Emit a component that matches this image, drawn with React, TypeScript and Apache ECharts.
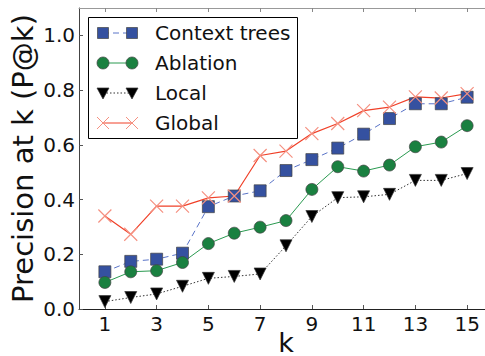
import React, { useEffect, useRef } from "react";
import * as echarts from "echarts";

const kValues = [1, 2, 3, 4, 5, 6, 7, 8, 9, 10, 11, 12, 13, 14, 15];
const contextTrees = [0.136, 0.174, 0.182, 0.204, 0.374, 0.413, 0.432, 0.506, 0.546, 0.588, 0.639, 0.696, 0.75, 0.75, 0.774];
const ablation = [0.097, 0.136, 0.14, 0.17, 0.239, 0.277, 0.299, 0.323, 0.437, 0.52, 0.504, 0.526, 0.593, 0.61, 0.67];
const local = [0.027, 0.042, 0.055, 0.083, 0.112, 0.119, 0.128, 0.231, 0.338, 0.407, 0.41, 0.419, 0.47, 0.47, 0.495];
const globalVals = [0.34, 0.273, 0.376, 0.376, 0.406, 0.413, 0.561, 0.577, 0.641, 0.678, 0.725, 0.738, 0.775, 0.771, 0.787];
const xTicks = [1, 3, 5, 7, 9, 11, 13, 15];
const yTicks = [0, 0.2, 0.4, 0.6, 0.8, 1.0];
const seriesNames = ["Context trees", "Ablation", "Local", "Global"];

const FONT = "DejaVu Sans";
const X_PATH = "path://M0,0L10,10M10,0L0,10";

const pair = (vals: number[]) => kValues.map((k, i) => [k, vals[i]]);

export default function App() {
  const ref = useRef<HTMLDivElement>(null);
  useEffect(() => {
    if (!ref.current) return;
    const chart = echarts.init(ref.current, null, { renderer: "svg" });
    const edge = { borderColor: "#444", borderWidth: 0.7 };
    const rowY = [33, 63, 93, 123];
    const mx1 = 103, mx2 = 132, tx = 155;
    const legendItems: any[] = [
      { type: "rect", shape: { x: 88.5, y: 17.5, width: 209, height: 121 }, style: { fill: "#fff", stroke: "#000", lineWidth: 1 }, z: 100 },
    ];
    // Context trees
    legendItems.push({ type: "line", shape: { x1: mx1, y1: rowY[0], x2: mx2, y2: rowY[0] }, style: { stroke: "#5a74c8", lineWidth: 1, lineDash: [6, 4] }, z: 101 });
    [mx1, mx2].forEach((x) => legendItems.push({ type: "rect", shape: { x: x - 5.5, y: rowY[0] - 5.5, width: 11, height: 11 }, style: { fill: "#3551a0", stroke: "#444", lineWidth: 0.7 }, z: 102 }));
    // Ablation
    legendItems.push({ type: "line", shape: { x1: mx1, y1: rowY[1], x2: mx2, y2: rowY[1] }, style: { stroke: "#2a9a50", lineWidth: 1 }, z: 101 });
    [mx1, mx2].forEach((x) => legendItems.push({ type: "circle", shape: { cx: x, cy: rowY[1], r: 6 }, style: { fill: "#1a8040", stroke: "#444", lineWidth: 0.7 }, z: 102 }));
    // Local
    legendItems.push({ type: "line", shape: { x1: mx1, y1: rowY[2], x2: mx2, y2: rowY[2] }, style: { stroke: "#333", lineWidth: 1, lineDash: [1.5, 2] }, z: 101 });
    [mx1, mx2].forEach((x) => legendItems.push({ type: "polygon", shape: { points: [[x - 6, rowY[2] - 5], [x + 6, rowY[2] - 5], [x, rowY[2] + 6]] }, style: { fill: "#000", stroke: "#333", lineWidth: 0.7 }, z: 102 }));
    // Global
    legendItems.push({ type: "line", shape: { x1: mx1, y1: rowY[3], x2: mx2, y2: rowY[3] }, style: { stroke: "#f04028", lineWidth: 1 }, z: 101 });
    [mx1, mx2].forEach((x) => {
      legendItems.push({ type: "line", shape: { x1: x - 6, y1: rowY[3] - 6, x2: x + 6, y2: rowY[3] + 6 }, style: { stroke: "#f59080", lineWidth: 1 }, z: 102 });
      legendItems.push({ type: "line", shape: { x1: x - 6, y1: rowY[3] + 6, x2: x + 6, y2: rowY[3] - 6 }, style: { stroke: "#f59080", lineWidth: 1 }, z: 102 });
    });
    seriesNames.forEach((n, i) =>
      legendItems.push({ type: "text", x: tx, y: rowY[i], style: { text: n, fill: "#111", font: `20px ${FONT}`, textVerticalAlign: "middle", verticalAlign: "middle", align: "left" }, z: 103 })
    );

    chart.setOption({
      animation: false,
      backgroundColor: "#fff",
      grid: { left: 79, top: 8, width: 414, bottom: 47, containLabel: false, outerBoundsMode: "none" },
      xAxis: [
        {
          type: "value", min: 0, max: 16, position: "bottom",
          name: "k", nameLocation: "middle", nameGap: 22, nameMoveOverlap: false,
          nameTextStyle: { fontFamily: FONT, fontSize: 27, color: "#111", verticalAlign: "top", lineHeight: 22 },
          axisLine: { show: true, lineStyle: { color: "#222", width: 1 } },
          axisTick: { show: true, inside: true, length: 4, customValues: xTicks, lineStyle: { color: "#555" } },
          axisLabel: { customValues: xTicks, fontFamily: FONT, fontSize: 20, color: "#111", margin: 5 },
          splitLine: { show: false },
        },
        {
          type: "value", min: 0, max: 16, position: "top",
          axisLine: { show: true, lineStyle: { color: "#999", width: 1 } },
          axisTick: { show: true, inside: true, length: 4, customValues: xTicks, lineStyle: { color: "#888" } },
          axisLabel: { show: false },
          splitLine: { show: false },
        },
      ],
      yAxis: {
        type: "value", min: 0, max: 1.1,
        name: "Precision at k (P@k)", nameLocation: "middle", nameGap: 42, nameMoveOverlap: false,
        nameTextStyle: { fontFamily: FONT, fontSize: 29, color: "#111" },
        axisLine: { show: true, lineStyle: { color: "#444", width: 1 } },
        axisTick: { show: true, inside: true, length: 4, customValues: yTicks, lineStyle: { color: "#555" } },
        axisLabel: { customValues: yTicks, fontFamily: FONT, fontSize: 20, color: "#111", margin: 4, formatter: (v: number) => v.toFixed(1) },
        splitLine: { show: false },
      },
      series: [
        {
          name: seriesNames[0], type: "line", data: pair(contextTrees),
          symbol: "rect", symbolSize: 12,
          lineStyle: { color: "#5a74c8", width: 1, type: [6, 4] },
          itemStyle: { color: "#3551a0", ...edge },
        },
        {
          name: seriesNames[1], type: "line", data: pair(ablation),
          symbol: "circle", symbolSize: 12,
          lineStyle: { color: "#2a9a50", width: 1 },
          itemStyle: { color: "#1a8040", ...edge },
        },
        {
          name: seriesNames[2], type: "line", data: pair(local),
          symbol: "triangle", symbolRotate: 180, symbolSize: 12,
          lineStyle: { color: "#333", width: 1, type: [1.5, 2] },
          itemStyle: { color: "#000", borderColor: "#333", borderWidth: 0.7 },
        },
        {
          name: seriesNames[3], type: "line", data: pair(globalVals),
          symbol: X_PATH, symbolSize: 13,
          lineStyle: { color: "#f04028", width: 1.2 },
          itemStyle: { color: "none", borderColor: "#f59080", borderWidth: 1.2 },
        },
      ],
      graphic: legendItems,
    });
    return () => chart.dispose();
  }, []);
  return <div ref={ref} style={{ position: "fixed", left: 0, top: 0, width: 485, height: 356 }} />;
}
